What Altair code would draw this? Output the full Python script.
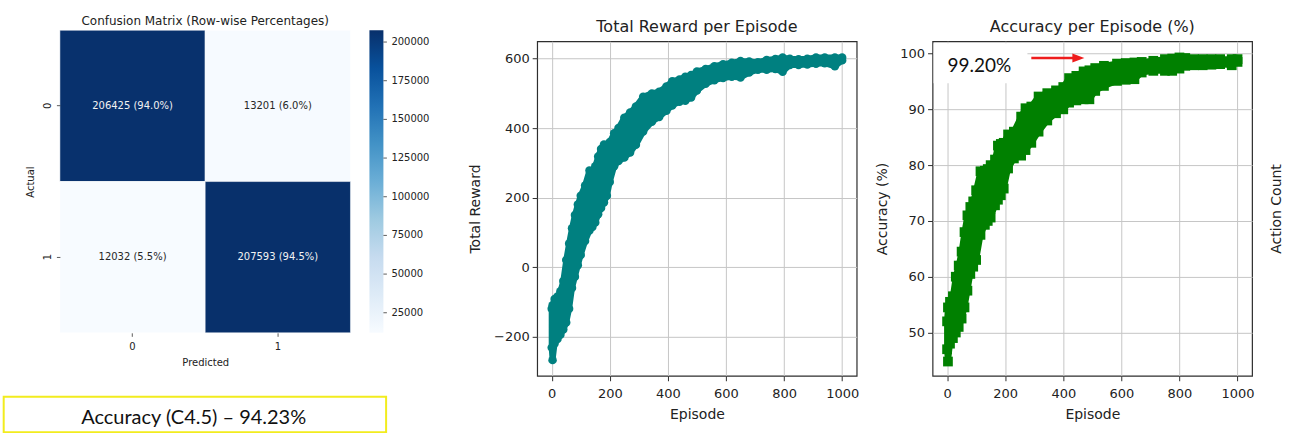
import altair as alt
import pandas as pd

# ---------------- C4.5 confusion matrix ----------------
actual = ["0", "0", "1", "1"]
predicted = ["0", "1", "0", "1"]
cases = [206425, 13201, 12032, 207593]
row_pct = [94.0, 6.0, 5.5, 94.5]
cbar_ticks = [25000, 50000, 75000, 100000, 125000, 150000, 175000, 200000]
c45_accuracy = 94.23

# ---------------- RL agent: total reward per episode ----------------
# lower / upper spread of the per-episode scatter
reward_episode = [0, 3, 10, 20, 30, 40, 50, 60, 70, 80, 90, 100, 115, 130, 140, 150, 160,
                  170, 180, 190, 200, 215, 230, 250, 270, 290, 315, 345, 370, 395, 415, 440,
                  460, 480, 500, 530, 560, 590, 620, 650, 680, 710, 740, 770, 795, 820, 850,
                  880, 910, 940, 975, 1000]
reward_low = [-232, -268, -220, -207, -195, -180, -160, -120, -60, -28, 5, 35, 75, 105, 115,
              128, 152, 170, 186, 205, 245, 290, 305, 315, 330, 352, 390, 418, 432, 450, 465,
              476, 479, 488, 508, 528, 538, 544, 548, 546, 560, 568, 568, 570, 562, 582, 582,
              583, 585, 587, 578, 595]
reward_high = [-120, -110, -92, -85, -70, -40, 20, 68, 112, 150, 180, 205, 235, 278, 272, 290,
               318, 340, 353, 350, 360, 385, 400, 430, 445, 462, 490, 500, 505, 520, 535, 540,
               548, 553, 563, 570, 578, 584, 588, 593, 592, 590, 596, 599, 603, 600, 598, 600,
               603, 603, 603, 603]

# ---------------- RL agent: accuracy per episode (%) ----------------
acc_episode = [0, 3, 10, 20, 30, 40, 50, 60, 70, 80, 90, 100, 115, 130, 140, 150, 165, 175,
               185, 195, 210, 230, 255, 270, 290, 315, 345, 375, 400, 420, 445, 470, 490, 510,
               540, 585, 615, 645, 670, 710, 750, 775, 800, 820, 850, 880, 910, 940, 980, 1000]
acc_low = [47.0, 44.8, 48.0, 49.0, 50.0, 51.0, 52.5, 54.5, 57.5, 60.5, 61.8, 63.0, 67.5, 69.3,
           70.0, 70.6, 72.8, 73.8, 74.6, 75.8, 79.4, 81.2, 81.7, 82.7, 84.0, 86.0, 88.0, 89.3,
           90.0, 91.2, 91.6, 91.8, 91.8, 93.3, 94.2, 95.1, 95.3, 95.4, 96.6, 96.9, 96.9, 96.9,
           97.3, 97.8, 97.9, 97.9, 98.0, 98.1, 97.9, 98.5]
acc_high = [52.0, 54.5, 55.5, 56.5, 60.0, 62.0, 64.5, 68.0, 71.0, 72.5, 73.5, 75.5, 78.9, 79.0,
            79.3, 80.0, 81.0, 83.5, 83.8, 84.0, 85.5, 86.0, 88.7, 90.2, 90.5, 92.3, 92.9, 93.4,
            94.0, 95.6, 96.0, 96.8, 97.0, 97.4, 97.8, 98.2, 98.3, 98.4, 98.5, 98.7, 99.0, 99.1,
            99.3, 99.2, 99.0, 99.0, 99.0, 99.0, 99.0, 99.0]
peak_accuracy = 99.20
arrow_start_episode = 290
arrow_head_episode = 452

episode_ticks = [0, 200, 400, 600, 800, 1000]
reward_ticks = [-200, 0, 200, 400, 600]
acc_ticks = [50, 60, 70, 80, 90, 100]

# ---------------- styling ----------------
FONT = "DejaVu Sans"
TXT = "#222222"
FRAME = "#2e2e2e"
GRID = "#c6c6c6"
TEAL = "#008080"
GREEN = "#008000"
RED = "#ee1c1c"
BLUES = ["#f7fbff", "#deebf7", "#c6dbef", "#9ecae1", "#6baed6",
         "#4292c6", "#2171b5", "#08519c", "#08306b"]

HEAT_W = 291        # matrix width
PANEL_W = 402       # heatmap panel incl. colorbar
PANEL_H = 292       # heatmap panel height (to the x axis)
TOP = -11           # matrix top relative to the panel origin
PLOT_W = 320
PLOT_H = 335

one = pd.DataFrame({"k": [0]})

# ---------------- heatmap panel ----------------
vmin, vmax = min(cases), max(cases)
color_domain = [vmin + (vmax - vmin) * i / 8 for i in range(9)]

cm_df = pd.DataFrame({"actual": actual, "predicted": predicted,
                      "cases": cases, "pct": row_pct})
cm_df["label"] = [f"{c} ({p:.1f}%)" for c, p in zip(cases, row_pct)]

heat_x = alt.X(
    "predicted:N", sort=["0", "1"],
    scale=alt.Scale(range=[0, HEAT_W], paddingInner=0, paddingOuter=0),
    axis=alt.Axis(title="Predicted", labelAngle=0, domain=False, grid=False,
                  tickSize=3.5, tickColor="#333333", tickWidth=0.8,
                  labelFont=FONT, labelFontSize=10, labelColor=TXT, labelPadding=5,
                  titleFont=FONT, titleFontSize=10, titleFontWeight="normal",
                  titleColor=TXT, titleBaseline="alphabetic", titleY=33),
)
heat_y_scale = alt.Scale(range=[TOP, PANEL_H], paddingInner=0, paddingOuter=0)
heat_y_axis = alt.Axis(title="Actual", domain=False, grid=False,
                       tickSize=3.5, tickColor="#333333", tickWidth=0.8,
                       labelFont=FONT, labelFontSize=10, labelColor=TXT,
                       labelAngle=270, labelAlign="center", labelBaseline="middle",
                       labelPadding=8.5,
                       titleFont=FONT, titleFontSize=10, titleFontWeight="normal",
                       titleColor=TXT, titleAngle=270, titleAlign="center",
                       titleBaseline="middle", titleX=-29, titleY=(PANEL_H + TOP) / 2)

anchor = alt.Chart(one).mark_rect(opacity=0).encode(
    x=alt.value(-59), x2=alt.value(1237), y=alt.value(-40), y2=alt.value(393))

cells = alt.Chart(cm_df).mark_rect(stroke="white", strokeWidth=0.5).encode(
    x=heat_x,
    y=alt.Y("actual:N", sort=["0", "1"], scale=heat_y_scale, axis=heat_y_axis),
    color=alt.Color("cases:Q", scale=alt.Scale(type="linear", domain=color_domain,
                                               range=BLUES), legend=None),
)
cell_text = alt.Chart(cm_df).mark_text(font=FONT, fontSize=10).encode(
    x=heat_x,
    y=alt.Y("actual:N", sort=["0", "1"], scale=heat_y_scale, axis=None),
    text="label:N",
    color=alt.condition(alt.datum.cases > (vmin + vmax) / 2,
                        alt.value("#f2f2f2"), alt.value("#262626")),
)
heat_title = alt.Chart(one).mark_text(
    text="Confusion Matrix (Row-wise Percentages)", font=FONT, fontSize=12,
    align="center", baseline="alphabetic", color=TXT,
).encode(x=alt.value(HEAT_W / 2), y=alt.value(-16.7))

cbar_df = pd.DataFrame({"lo": [vmin], "hi": [vmax]})
tick_df = pd.DataFrame({"v": cbar_ticks})
cbar_scale = alt.Scale(domain=[vmin, vmax], range=[PANEL_H, TOP], nice=False, zero=False)
gradient = alt.LinearGradient(
    gradient="linear",
    stops=[alt.GradientStop(color=c, offset=i / 8) for i, c in enumerate(BLUES)],
    x1=0, x2=0, y1=1, y2=0,
)
cbar = alt.Chart(cbar_df).mark_rect(fill=gradient).encode(
    x=alt.value(310), x2=alt.value(324),
    y=alt.Y("hi:Q", scale=cbar_scale, axis=None), y2="lo:Q")
cbar_tick_marks = alt.Chart(tick_df).mark_rule(color="#333333", strokeWidth=0.8).encode(
    x=alt.value(324), x2=alt.value(327.5),
    y=alt.Y("v:Q", scale=cbar_scale, axis=None))
cbar_labels = alt.Chart(tick_df).mark_text(
    align="left", baseline="middle", font=FONT, fontSize=10, color=TXT,
).encode(x=alt.value(332), y=alt.Y("v:Q", scale=cbar_scale, axis=None),
         text=alt.Text("v:Q", format="d"))

acc_box = alt.Chart(one).mark_rect(filled=False, stroke="#f2ec1e", strokeWidth=2).encode(
    x=alt.value(-56.3), x2=alt.value(326.7), y=alt.value(356), y2=alt.value(391.7))
acc_box_text = alt.Chart(one).mark_text(
    text=f"Accuracy (C4.5) \u2013 {c45_accuracy:.2f}%", font="Lato", fontSize=20,
    align="center", baseline="alphabetic", color="#111111",
).encode(x=alt.value(134), y=alt.value(383.3))

heat = alt.layer(
    anchor, cells, cell_text, heat_title, cbar, cbar_tick_marks, cbar_labels,
    acc_box, acc_box_text,
).resolve_scale(y="independent").properties(
    width=PANEL_W, height=PANEL_H, view=alt.ViewBackground(stroke="transparent"))


# ---------------- shared styling of the two training panels ----------------
def x_axis():
    return alt.Axis(values=episode_ticks, format="d", title="Episode", grid=True,
                    gridColor=GRID, gridWidth=1, domain=False, tickSize=5,
                    tickColor=FRAME, tickWidth=1,
                    labelFont=FONT, labelFontSize=13, labelColor=TXT, labelPadding=6.5,
                    labelFlush=False, titleFont=FONT, titleFontSize=14,
                    titleFontWeight="normal", titleColor=TXT,
                    titleBaseline="alphabetic", titleY=43.3)


def y_axis(values, title, title_x):
    return alt.Axis(values=values, format="d", title=title, grid=True, gridColor=GRID,
                    gridWidth=1, domain=False, tickSize=5, tickColor=FRAME, tickWidth=1,
                    labelFont=FONT, labelFontSize=13, labelColor=TXT, labelPadding=3,
                    labelFlush=False, titleFont=FONT, titleFontSize=14,
                    titleFontWeight="normal", titleColor=TXT, titleAngle=270,
                    titleAlign="center", titleBaseline="middle",
                    titleX=title_x, titleY=PLOT_H / 2)


def panel_title(text):
    return alt.Chart(one).mark_text(
        text=text, font=FONT, fontSize=16, align="center", baseline="alphabetic",
        color=TXT,
    ).encode(x=alt.value(PLOT_W / 2), y=alt.value(-9.3))


ep_scale = alt.Scale(domain=[-50, 1050], nice=False, zero=False)
frame_view = alt.ViewBackground(stroke=FRAME, strokeWidth=1.2)

# ---------------- total reward panel ----------------
rw_df = pd.DataFrame({"episode": reward_episode, "low": reward_low, "high": reward_high})
rw_scale = alt.Scale(domain=[-313, 650], nice=False, zero=False)
rw_axis = y_axis(reward_ticks, "Total Reward", -62)
rw_x = alt.X("episode:Q", scale=ep_scale, axis=x_axis())

rw_band = alt.Chart(rw_df).mark_area(
    color=TEAL, stroke=TEAL, strokeWidth=6, strokeJoin="round", opacity=1,
).encode(x=rw_x, y=alt.Y("low:Q", scale=rw_scale, axis=rw_axis), y2="high:Q")
rw_low_pts = alt.Chart(rw_df).mark_circle(size=72, color=TEAL, opacity=1).encode(
    x=rw_x, y=alt.Y("low:Q", scale=rw_scale, axis=rw_axis))
rw_high_pts = alt.Chart(rw_df).mark_circle(size=72, color=TEAL, opacity=1).encode(
    x=rw_x, y=alt.Y("high:Q", scale=rw_scale, axis=rw_axis))

reward = alt.layer(
    rw_band, rw_low_pts, rw_high_pts, panel_title("Total Reward per Episode"),
).properties(width=PLOT_W, height=PLOT_H, view=frame_view)

# ---------------- accuracy panel ----------------
acc_df = pd.DataFrame({"episode": acc_episode, "low": acc_low, "high": acc_high})
acc_scale = alt.Scale(domain=[42.25, 102.2], nice=False, zero=False)
acc_axis = y_axis(acc_ticks, "Accuracy (%)", -50)
acc_x = alt.X("episode:Q", scale=ep_scale, axis=x_axis())

arrow_df = pd.DataFrame({"start": [arrow_start_episode], "end": [arrow_head_episode],
                         "level": [peak_accuracy], "label": [f"{peak_accuracy:.2f}%"]})

label_bg = alt.Chart(one).mark_rect(fill="white").encode(
    x=alt.value(1), x2=alt.value(95), y=alt.value(2), y2=alt.value(42))
acc_band = alt.Chart(acc_df).mark_area(
    color=GREEN, stroke=GREEN, strokeWidth=6, strokeJoin="miter", opacity=1,
).encode(x=acc_x, y=alt.Y("low:Q", scale=acc_scale, axis=acc_axis), y2="high:Q")
acc_low_pts = alt.Chart(acc_df).mark_square(size=95, color=GREEN, opacity=1).encode(
    x=acc_x, y=alt.Y("low:Q", scale=acc_scale, axis=acc_axis))
acc_high_pts = alt.Chart(acc_df).mark_square(size=95, color=GREEN, opacity=1).encode(
    x=acc_x, y=alt.Y("high:Q", scale=acc_scale, axis=acc_axis))
arrow_shaft = alt.Chart(arrow_df).mark_rule(color=RED, strokeWidth=2.5).encode(
    x=alt.X("start:Q", scale=ep_scale, axis=x_axis()), x2="end:Q",
    y=alt.Y("level:Q", scale=acc_scale, axis=acc_axis))
arrow_head = alt.Chart(arrow_df).mark_point(
    shape="M-1,-0.75L1,0L-1,0.75Z", size=144, filled=True, color=RED, opacity=1,
).encode(x=alt.X("end:Q", scale=ep_scale, axis=x_axis()),
         y=alt.Y("level:Q", scale=acc_scale, axis=acc_axis))
peak_label = alt.Chart(arrow_df).mark_text(
    font="Lato", fontSize=19, align="left", baseline="alphabetic", color="#111111",
).encode(x=alt.value(15), y=alt.value(31), text="label:N")
action_count = alt.Chart(one).mark_text(
    text="Action Count", angle=270, font=FONT, fontSize=14, align="center",
    baseline="middle", color=TXT,
).encode(x=alt.value(345), y=alt.value(168))

accuracy = alt.layer(
    label_bg, acc_band, acc_low_pts, acc_high_pts, arrow_shaft, arrow_head,
    peak_label, action_count, panel_title("Accuracy per Episode (%)"),
).properties(width=PLOT_W, height=PLOT_H, view=frame_view)

chart = alt.hconcat(heat, reward, accuracy, spacing=76, bounds="flush").properties(
    padding=0, background="white")

chart.save("out.html", embed_options={"renderer": "svg", "actions": False})
